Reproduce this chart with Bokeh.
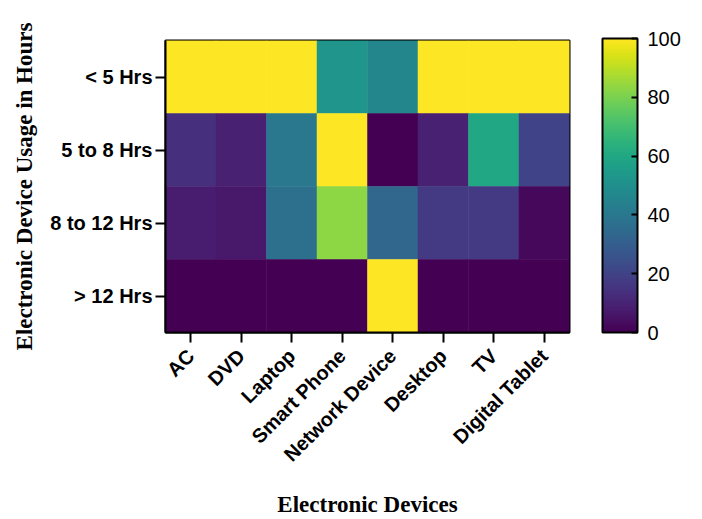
import math
from bokeh.plotting import figure
from bokeh.models import ColumnDataSource, ColorBar, LinearColorMapper, FixedTicker
from bokeh.palettes import Viridis256
from bokeh.transform import transform
from bokeh.embed import file_html
from bokeh.resources import INLINE

devices = ["AC", "DVD", "Laptop", "Smart Phone", "Network Device", "Desktop", "TV", "Digital Tablet"]
usage = ["< 5 Hrs", "5 to 8 Hrs", "8 to 12 Hrs", "> 12 Hrs"]
lt5 = [100, 100, 100, 52, 46, 100, 100, 100]
h5to8 = [14, 9, 40, 100, 0, 9, 60, 20]
h8to12 = [8, 7, 37, 83, 33, 17, 17, 2]
gt12 = [0, 0, 0, 0, 100, 0, 0, 0]
cbar_ticks = [0, 20, 40, 60, 80, 100]

rows = [lt5, h5to8, h8to12, gt12]
xs, ys, vals = [], [], []
for u, r in zip(usage, rows):
    for d, v in zip(devices, r):
        xs.append(d)
        ys.append(u)
        vals.append(v)
src = ColumnDataSource(dict(device=xs, usage=ys, val=vals))

mapper = LinearColorMapper(palette=Viridis256, low=0, high=100)

p = figure(x_range=devices, y_range=list(reversed(usage)),
           frame_width=404, frame_height=292,
           min_border_left=165, min_border_top=40, min_border_bottom=3,
           min_border_right=5,
           output_backend="svg", toolbar_location=None)

p.rect(x="device", y="usage", width=1, height=1, source=src,
       fill_color=transform("val", mapper), line_color=transform("val", mapper),
       line_width=0.5)

p.grid.visible = False
p.outline_line_color = "black"
p.outline_line_width = 2
p.x_range.range_padding = 0
p.y_range.range_padding = 0

for ax in (p.xaxis, p.yaxis):
    ax.axis_line_width = 2
    ax.axis_line_color = "black"
    ax.major_tick_line_width = 2
    ax.major_tick_line_color = "black"
    ax.major_tick_out = 10
    ax.major_tick_in = 0
    ax.major_label_text_font = "Liberation Sans"
    ax.major_label_text_font_style = "bold"
    ax.major_label_text_font_size = "20px"
    ax.major_label_text_color = "black"
    ax.axis_label_text_font = "Liberation Serif"
    ax.axis_label_text_font_style = "bold"
    ax.axis_label_text_font_size = "23px"
    ax.axis_label_text_color = "black"

p.xaxis.major_label_orientation = math.pi / 4
p.xaxis.axis_label = "Electronic Devices"
p.yaxis.axis_label = "Electronic Device Usage in Hours"
p.xaxis.axis_label_standoff = 16
p.yaxis.axis_label_standoff = 10
p.xaxis.major_label_standoff = 10
p.yaxis.major_label_standoff = 3

cb = ColorBar(color_mapper=mapper, ticker=FixedTicker(ticks=cbar_ticks),
              width=35, height=294, padding=0, margin=0, location=(33, 0),
              bar_line_color="black", bar_line_width=2,
              major_tick_line_color="black", major_tick_line_width=2,
              major_tick_in=6, major_tick_out=0,
              major_label_text_font="Liberation Sans",
              major_label_text_font_size="20px",
              major_label_text_color="black",
              label_standoff=10,
              border_line_color=None, background_fill_color="white")
p.add_layout(cb, "right")

open("out.html", "w").write(file_html(p, INLINE))
